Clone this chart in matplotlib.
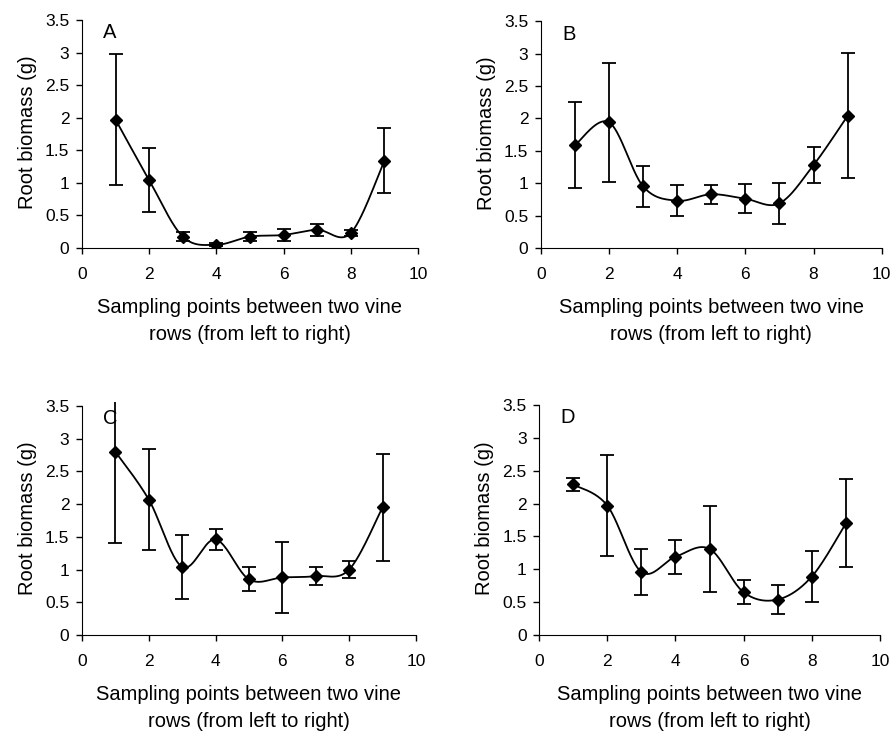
import numpy as np
import matplotlib
matplotlib.use('Agg')
import matplotlib.pyplot as plt

plt.rcParams['font.family'] = ['Liberation Sans', 'DejaVu Sans']

# sampling points between the two vine rows
points = [1, 2, 3, 4, 5, 6, 7, 8, 9]

# mean root biomass (g) and error bar half-widths per panel
mean_a = [1.97, 1.04, 0.175, 0.05, 0.175, 0.20, 0.28, 0.23, 1.34]
err_a = [1.0, 0.49, 0.065, 0.02, 0.075, 0.085, 0.095, 0.04, 0.5]

mean_b = [1.59, 1.94, 0.95, 0.73, 0.83, 0.76, 0.69, 1.28, 2.04]
err_b = [0.66, 0.92, 0.31, 0.235, 0.145, 0.225, 0.32, 0.28, 0.965]

mean_c = [2.80, 2.07, 1.04, 1.46, 0.85, 0.88, 0.90, 1.00, 1.95]
err_c = [1.39, 0.77, 0.49, 0.155, 0.185, 0.545, 0.135, 0.13, 0.82]

mean_d = [2.29, 1.97, 0.96, 1.19, 1.31, 0.65, 0.54, 0.89, 1.70]
err_d = [0.095, 0.775, 0.35, 0.26, 0.655, 0.185, 0.225, 0.39, 0.67]

panel_labels = ['A', 'B', 'C', 'D']
xticks = [0, 2, 4, 6, 8, 10]
yticks = [0, 0.5, 1, 1.5, 2, 2.5, 3, 3.5]
ytick_labels = ['0', '0.5', '1', '1.5', '2', '2.5', '3', '3.5']


def smooth(xs, ys, n=40):
    # spreadsheet-style smoothed line (cubic bezier through the points)
    pts = np.column_stack([xs, ys]).astype(float)
    ext = np.vstack([pts[0], pts, pts[-1]])
    t = np.linspace(0, 1, n)[:, None]
    segs = []
    for i in range(len(pts) - 1):
        p0, p1, p2, p3 = ext[i], ext[i + 1], ext[i + 2], ext[i + 3]
        c1 = p1 + (p2 - p0) / 6
        c2 = p2 - (p3 - p1) / 6
        segs.append((1 - t)**3 * p1 + 3 * (1 - t)**2 * t * c1
                    + 3 * (1 - t) * t**2 * c2 + t**3 * p2)
    out = np.vstack(segs)
    return out[:, 0], out[:, 1]


fig = plt.figure(figsize=(8.93, 7.32), dpi=100)

rects = [
    [0.0918, 0.6612, 0.3763, 0.3169],
    [0.6058, 0.6612, 0.3815, 0.3150],
    [0.0918, 0.1325, 0.3740, 0.3183],
    [0.6036, 0.1325, 0.3819, 0.3197],
]
means = [mean_a, mean_b, mean_c, mean_d]
errs = [err_a, err_b, err_c, err_d]

for rect, m, e, lab in zip(rects, means, errs, panel_labels):
    ax = fig.add_axes(rect)
    sx, sy = smooth(points, m)
    ax.plot(sx, sy, color='black', lw=1.3)
    ax.errorbar(points, m, yerr=e, fmt='D', color='black', ms=6.3,
                ecolor='black', elinewidth=1.3, capsize=5, capthick=1.3)
    ax.set_xlim(0, 10)
    ax.set_ylim(0, 3.56)
    ax.spines['left'].set_bounds(0, 3.5)
    ax.spines['top'].set_visible(False)
    ax.spines['right'].set_visible(False)
    ax.set_xticks(xticks)
    ax.set_yticks(yticks)
    ax.set_yticklabels(ytick_labels)
    ax.tick_params(direction='out', length=4, width=1, labelsize=12.5)
    ax.tick_params(axis='x', pad=10)
    ax.tick_params(axis='y', pad=5)
    ax.set_ylabel('Root biomass (g)', fontsize=14.5, labelpad=6)
    ax.set_xlabel('Sampling points between two vine\nrows (from left to right)',
                  fontsize=14.5, labelpad=11, linespacing=1.52)
    ax.text(0.62, 3.45, lab, fontsize=14.5, va='top', ha='left')

fig.savefig('out.png', dpi=100)
